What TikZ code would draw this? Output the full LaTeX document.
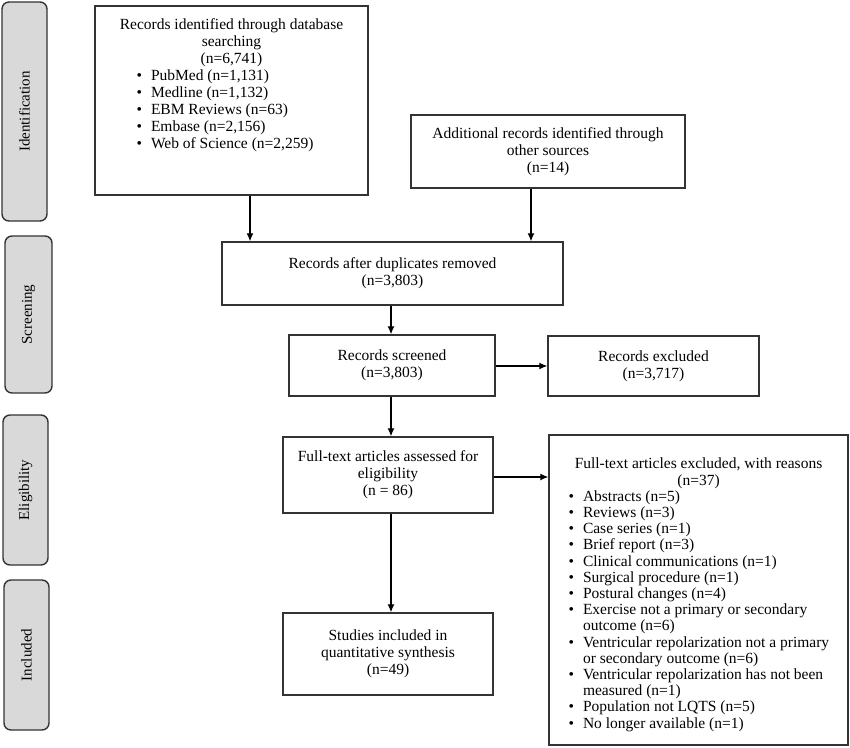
\documentclass[tikz,border=0pt]{standalone}
\usepackage{fontspec}
\setmainfont{Liberation Serif}
\usepackage{enumitem}
\usetikzlibrary{arrows.meta}
\definecolor{edge}{HTML}{333333}
\definecolor{side}{HTML}{D9D9D9}
\newcommand{\fs}{\fontsize{15.5}{17.1}\selectfont\lineskiplimit=-20pt\lineskip=0pt}
\tikzset{
  box/.style={draw=edge, line width=1.4pt, fill=white, inner sep=0pt, align=center, font=\fs},
  sz/.style 2 args={minimum width=#1pt, minimum height=#2pt},
  sidebox/.style={draw=edge, line width=1.4pt, fill=side, rounded corners=7pt, inner sep=0pt},
  sidetext/.style={rotate=90, font=\fontsize{15}{17}\selectfont},
  txt/.style={inner sep=0pt, font=\fs},
  arr/.style={draw=black, line width=1.2pt, -{Latex[length=8pt,width=7pt]}}
}
\setlist[itemize]{labelsep=9pt, itemsep=0pt, topsep=0pt, parsep=0pt, partopsep=0pt}
\begin{document}
\begin{tikzpicture}[x=1pt, y=-1pt]
\useasboundingbox (0,0) rectangle (850,747);
% side labels
\node[sidebox, sz={45}{219}] (sid) at (24.5,111.5) {};
\node[sidetext] (sidt) at (sid.center) {Identification};
\node[sidebox, sz={47}{157}] (scr) at (28.5,314.5) {};
\node[sidetext] (scrt) at (scr.center) {Screening};
\node[sidebox, sz={45}{150}] (eli) at (25.5,490) {};
\node[sidetext] (elit) at (eli.center) {Eligibility};
\node[sidebox, sz={45}{150}] (inc) at (26.5,655) {};
\node[sidetext] (inct) at (inc.center) {Included};

% identification box
\node[box, sz={273}{189}] (idb) at (231.5,100.5) {};
\node[txt, anchor=north] (idt) at (231.5,18) {\begin{minipage}{250pt}\fs
\centering Records identified through database\\ searching\\ (n=6,741)\par
\begin{itemize}[leftmargin=44.5pt]
\item PubMed (n=1,131)
\item Medline (n=1,132)
\item EBM Reviews (n=63)
\item Embase (n=2,156)
\item Web of Science (n=2,259)
\end{itemize}
\end{minipage}};

\node[box, sz={274}{73}] (add) at (548,151.5) {Additional records identified through\\ other sources\\ (n=14)};

\node[box, sz={341}{63}] (dup) at (392.5,273.5) {Records after duplicates removed\\ (n=3,803)};
\node[box, sz={206}{61}] (scn) at (392,365.5) {Records screened\\ (n=3,803)};
\node[box, sz={211}{60}] (rex) at (653.5,366) {Records excluded\\ (n=3,717)};

\node[box, sz={210}{76}] (ft) at (388,475) {Full-text articles assessed for\\ eligibility\\ (n = 86)};
\node[box, sz={210}{82}] (inc2) at (388,654) {Studies included in\\ quantitative synthesis\\ (n=49)};

\node[box, sz={299}{310}] (fex) at (698.5,590) {};
\node[txt, anchor=north] (fext) at (698.5,458) {\begin{minipage}{280pt}\fontsize{15.5}{16.2}\selectfont\lineskiplimit=-20pt\lineskip=0pt\hyphenpenalty=10000 \exhyphenpenalty=10000
\centering Full-text articles excluded, with reasons\\ (n=37)\par
\begin{itemize}[leftmargin=24.5pt]\raggedright
\item Abstracts (n=5)
\item Reviews (n=3)
\item Case series (n=1)
\item Brief report (n=3)
\item Clinical communications (n=1)
\item Surgical procedure (n=1)
\item Postural changes (n=4)
\item Exercise not a primary or secondary\\ outcome (n=6)
\item Ventricular repolarization not a primary\\ or secondary outcome (n=6)
\item Ventricular repolarization has not been\\ measured (n=1)
\item Population not LQTS (n=5)
\item No longer available (n=1)
\end{itemize}
\end{minipage}};

% connectors
\coordinate (c1) at (250,0);
\coordinate (c2) at (531,0);
\coordinate (c3) at (391,0);
\draw[arr] (idb.south -| c1) -- (dup.north -| c1);
\draw[arr] (add.south -| c2) -- (dup.north -| c2);
\draw[arr] (dup.south -| c3) -- (scn.north -| c3);
\draw[arr] (scn.east |- rex.west) -- (rex.west);
\draw[arr] (scn.south -| c3) -- (ft.north -| c3);
\coordinate (c4) at (0,477);
\draw[arr] (ft.east |- c4) -- (fex.west |- c4);
\draw[arr] (ft.south -| c3) -- (inc2.north -| c3);
\end{tikzpicture}
\end{document}
